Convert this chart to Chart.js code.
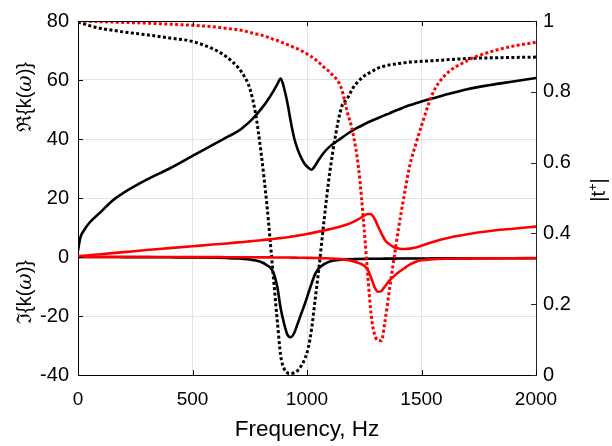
<!DOCTYPE html>
<html>
<head>
<meta charset="utf-8">
<script src="https://cdn.jsdelivr.net/npm/chart.js@4.4.1/dist/chart.umd.min.js"></script>
<style>
  html, body { margin: 0; padding: 0; background: #ffffff; }
  #wrap { position: relative; width: 612px; height: 446px; }
</style>
</head>
<body>
<div id="wrap"><canvas id="c" width="612" height="446"></canvas></div>
<script>
// ---- data ----
const freq = [0,10,25,50,100,150,200,300,400,500,
  600,650,700,725,750,775,800,825,850,870,
  885,900,915,930,945,960,975,990,1005,1020,
  1035,1050,1075,1100,1150,1175,1200,1225,1250,1265,
  1280,1295,1310,1325,1340,1360,1380,1400,1425,1450,
  1475,1500,1550,1600,1700,1800,1900,2000];

// Re{k} sample 1 (black solid, left axis)
const reK1 = [2.2,6.5,8.9,11.6,15.3,19.1,21.8,26.2,30,34.3,
  38.5,40.6,42.7,44.2,45.9,47.9,50.2,52.8,55.8,58.5,
  60.5,57.2,52,45.5,40,36.3,33.6,31.5,30.3,29.6,
  30.9,32.8,35.5,37.5,40.3,41.7,42.9,44,45,45.6,
  46.1,46.6,47.1,47.6,48.1,48.7,49.4,50,50.8,51.5,
  52.1,52.7,53.8,54.9,56.9,58.3,59.5,60.7];

// Im{k} sample 1 (black solid, left axis)
const imK1 = [0,0,0,0,0,0,-0.05,-0.05,-0.1,-0.15,
  -0.25,-0.35,-0.5,-0.65,-0.85,-1.15,-1.7,-2.8,-4.7,-10,
  -17.4,-22.6,-26.4,-27.2,-25.6,-22.4,-19.2,-16,-12.5,-9,
  -5.9,-4,-2.4,-1.5,-0.95,-0.85,-0.75,-0.7,-0.65,-0.62,
  -0.6,-0.6,-0.58,-0.57,-0.56,-0.55,-0.54,-0.53,-0.52,-0.51,
  -0.5,-0.5,-0.48,-0.47,-0.45,-0.44,-0.43,-0.42];

// |t+| sample 1 (black dotted, right axis)
const t1 = [0.997,0.995,0.992,0.987,0.979,0.974,0.969,0.961,0.952,0.942,
  0.918,0.898,0.868,0.845,0.81,0.74,0.625,0.48,0.3,0.155,
  0.055,0.018,0.006,0.004,0.007,0.013,0.026,0.045,0.075,0.13,
  0.21,0.29,0.44,0.575,0.755,0.78,0.81,0.83,0.845,0.851,
  0.856,0.862,0.867,0.87,0.873,0.876,0.878,0.88,0.882,0.884,
  0.885,0.886,0.888,0.89,0.894,0.896,0.897,0.898];

// Re{k} sample 2 (red solid, left axis)
const reK2 = [0.3,0.35,0.45,0.6,0.95,1.3,1.65,2.35,3.0,3.65,
  4.3,4.6,4.95,5.1,5.3,5.5,5.7,5.9,6.1,6.3,
  6.4,6.55,6.7,6.9,7.05,7.25,7.45,7.65,7.9,8.1,
  8.35,8.6,9.0,9.45,10.4,11.0,11.8,12.8,14.0,14.6,
  14.5,13.0,10.4,8.0,5.8,4.3,3.3,2.9,2.7,2.85,
  3.2,3.8,5.1,6.2,7.7,8.8,9.6,10.3];

// Im{k} sample 2 (red solid, left axis)
const imK2 = [0,0,0,0,0,0,0,0,-0.02,-0.03,
  -0.05,-0.06,-0.08,-0.09,-0.1,-0.11,-0.12,-0.13,-0.15,-0.16,
  -0.17,-0.18,-0.19,-0.2,-0.22,-0.23,-0.25,-0.27,-0.29,-0.31,
  -0.34,-0.37,-0.43,-0.5,-0.8,-1.0,-1.4,-2.0,-3.0,-4.3,
  -7.0,-10.2,-11.8,-11.5,-10.0,-8.0,-6.5,-5.2,-3.8,-2.5,
  -1.6,-1.1,-0.75,-0.6,-0.5,-0.45,-0.4,-0.35];

// |t+| sample 2 (red dotted, right axis)
const t2 = [1,1,0.999,0.999,0.998,0.997,0.996,0.994,0.991,0.988,
  0.983,0.979,0.975,0.972,0.968,0.964,0.96,0.955,0.949,0.945,
  0.941,0.937,0.933,0.929,0.925,0.921,0.916,0.911,0.905,0.899,
  0.892,0.884,0.869,0.855,0.81,0.745,0.685,0.585,0.41,0.285,
  0.17,0.115,0.098,0.097,0.15,0.24,0.33,0.415,0.51,0.595,
  0.652,0.704,0.797,0.845,0.888,0.913,0.929,0.94];

// tick values
const xTicks = [0, 500, 1000, 1500, 2000];
const yLeftTicks = [-40, -20, 0, 20, 40, 60, 80];
const yRightTicks = [0, 0.2, 0.4, 0.6, 0.8, 1];

// ---- chart ----
const FONT = "'Liberation Sans', Arial, Helvetica, sans-serif";
const pts = (ys) => freq.map((f, i) => ({ x: f, y: ys[i] }));

function solid(color, ys, axis) {
  return { data: pts(ys), yAxisID: axis, borderColor: color, borderWidth: 2.6,
           pointRadius: 0, fill: false, cubicInterpolationMode: 'monotone', borderCapStyle: 'round' };
}
function dotted(color, ys, axis) {
  return { data: pts(ys), yAxisID: axis, borderColor: color, borderWidth: 3,
           borderDash: [3, 2.4], pointRadius: 0, fill: false, cubicInterpolationMode: 'monotone',
           borderCapStyle: 'butt' };
}

function drawRich(ctx, segs, cx, cy, rot) {
  ctx.save();
  ctx.translate(cx, cy);
  if (rot) ctx.rotate(rot);
  let total = 0;
  segs.forEach(s => { ctx.font = s.font; total += ctx.measureText(s.text).width; });
  let x = -total / 2;
  ctx.textBaseline = 'alphabetic';
  ctx.textAlign = 'left';
  segs.forEach(s => {
    ctx.font = s.font;
    ctx.fillStyle = s.color || '#000';
    ctx.fillText(s.text, x, s.dy || 0);
    x += ctx.measureText(s.text).width;
  });
  ctx.restore();
}

const decorations = {
  id: 'decorations',
  afterDraw(chart) {
    const ctx = chart.ctx;
    const a = chart.chartArea;
    const sx = chart.scales.x, sy = chart.scales.y, sy1 = chart.scales.y1;
    const TL = 5;
    ctx.save();
    ctx.strokeStyle = '#000';
    ctx.lineWidth = 1;
    ctx.beginPath();
    ctx.moveTo(a.left, a.top + 0.5); ctx.lineTo(a.right, a.top + 0.5);
    ctx.stroke();
    ctx.beginPath();
    xTicks.forEach(v => {
      const px = Math.round(sx.getPixelForValue(v)) + 0.5;
      ctx.moveTo(px, a.bottom); ctx.lineTo(px, a.bottom - TL);
      ctx.moveTo(px, a.top); ctx.lineTo(px, a.top + TL);
    });
    yLeftTicks.forEach(v => {
      const py = Math.round(sy.getPixelForValue(v)) + 0.5;
      ctx.moveTo(a.left, py); ctx.lineTo(a.left + TL, py);
    });
    ctx.stroke();
    ctx.strokeStyle = '#262626';
    ctx.beginPath();
    yRightTicks.forEach(v => {
      const py = Math.round(sy1.getPixelForValue(v)) + 0.5;
      ctx.moveTo(a.right, py); ctx.lineTo(a.right - TL, py);
    });
    ctx.stroke();
    ctx.restore();

    const sans = (s) => s + "px " + FONT;
    drawRich(ctx, [{ text: 'Frequency, Hz', font: sans(22.5) }], (a.left + a.right) / 2, 436, 0);
    const kSegs = (sym) => [
      { text: sym, font: "20px 'DejaVu Serif', serif" },
      { text: '{k(', font: sans(20) },
      { text: 'ω', font: "italic 20px 'DejaVu Serif', serif" },
      { text: ')}', font: sans(20) }
    ];
    drawRich(ctx, kSegs('ℜ'), 31, 97, -Math.PI / 2);
    drawRich(ctx, kSegs('ℑ'), 31, 292, -Math.PI / 2);
    drawRich(ctx, [
      { text: '|t', font: sans(20) },
      { text: '+', font: sans(13), dy: -8 },
      { text: '|', font: sans(20) }
    ], 605, 190, -Math.PI / 2);
  }
};

new Chart(document.getElementById('c'), {
  type: 'line',
  data: {
    datasets: [
      solid('#ff0000', reK2, 'y'),
      solid('#ff0000', imK2, 'y'),
      dotted('#ff0000', t2, 'y1'),
      solid('#000000', reK1, 'y'),
      solid('#000000', imK1, 'y'),
      dotted('#000000', t1, 'y1')
    ]
  },
  options: {
    responsive: false,
    animation: false,
    events: [],
    layout: { padding: { top: 14, left: 0, right: 0, bottom: 0 } },
    plugins: { legend: { display: false }, tooltip: { enabled: false }, title: { display: false } },
    scales: {
      x: {
        type: 'linear', min: 0, max: 2000,
        afterBuildTicks: (s) => { s.ticks = xTicks.map(v => ({ value: v })); },
        ticks: { color: '#000', font: { family: FONT, size: 19 }, padding: 13, maxRotation: 0,
                 callback: (v) => String(v) },
        grid: { color: '#e3e3e3', lineWidth: 1, drawTicks: false },
        border: { display: true, color: '#000', width: 1 },
        afterFit: (s) => { s.height = 71; }
      },
      y: {
        type: 'linear', position: 'left', min: -40, max: 80,
        afterBuildTicks: (s) => { s.ticks = yLeftTicks.map(v => ({ value: v })); },
        ticks: { color: '#000', font: { family: FONT, size: 20 }, padding: 9,
                 callback: (v) => String(v) },
        grid: { color: '#e3e3e3', lineWidth: 1, drawTicks: false },
        border: { display: true, color: '#000', width: 1 },
        afterFit: (s) => { s.width = 78; }
      },
      y1: {
        type: 'linear', position: 'right', min: 0, max: 1,
        afterBuildTicks: (s) => { s.ticks = yRightTicks.map(v => ({ value: v })); },
        ticks: { color: '#000', font: { family: FONT, size: 20 }, padding: 7,
                 callback: (v) => String(v) },
        grid: { display: false, drawTicks: false },
        border: { display: true, color: '#262626', width: 1 },
        afterFit: (s) => { s.width = 76; }
      }
    }
  },
  plugins: [decorations]
});
</script>
</body>
</html>
